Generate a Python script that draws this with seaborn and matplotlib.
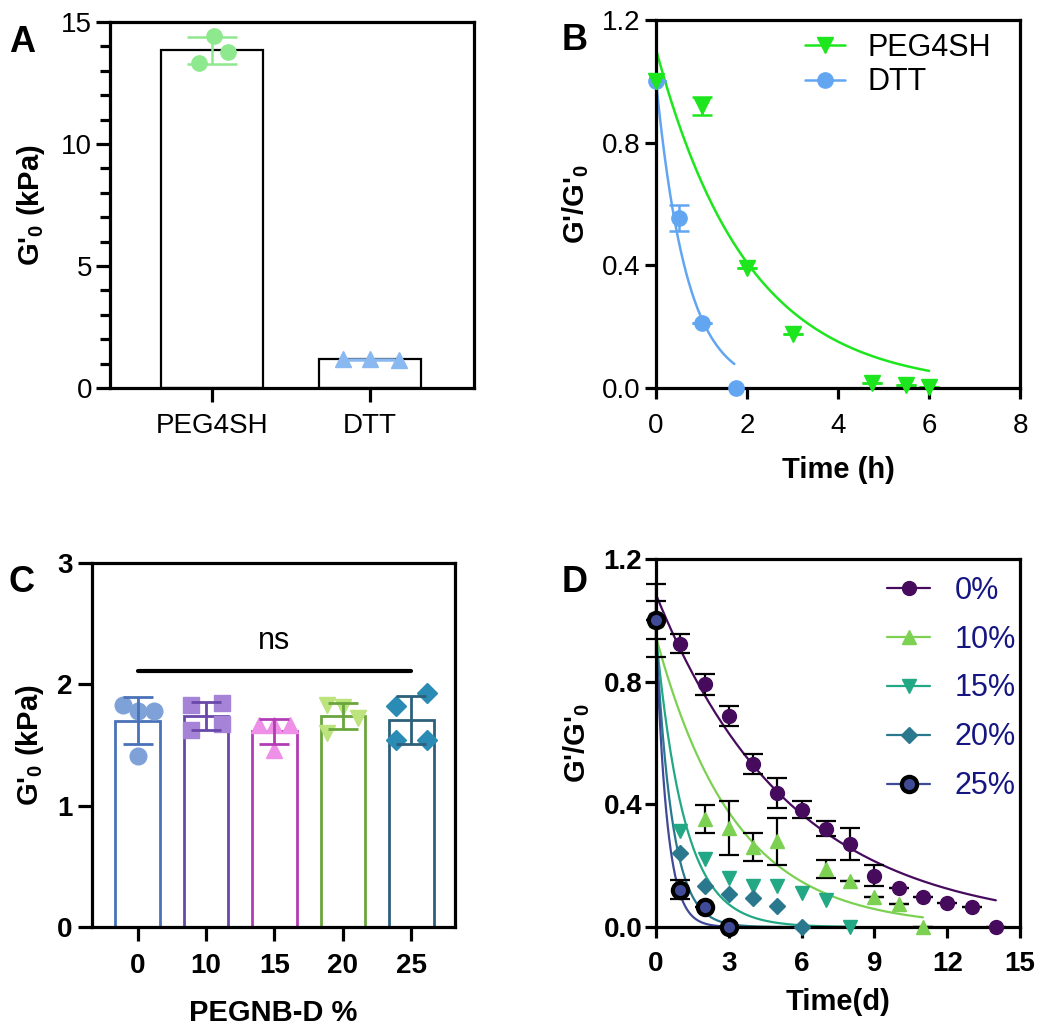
import numpy as np
import pandas as pd
import matplotlib
matplotlib.use('Agg')
import matplotlib.pyplot as plt
from matplotlib.lines import Line2D
from matplotlib.ticker import MultipleLocator, FormatStrFormatter
import seaborn as sns

# ---- panel A : G'0 for the two crosslinkers (replicates)
a_groups = ['PEG4SH', 'DTT']
a_peg4sh = [13.30, 14.42, 13.78]
a_dtt = [1.17, 1.20, 1.16]

# ---- panel B : G'/G'0 vs time (h)
b_peg_t = [0, 1, 2, 3, 4.75, 5.5, 6]
b_peg_y = [1.0, 0.92, 0.393, 0.176, 0.018, 0.011, 0.004]
b_peg_err = [0, 0.03, 0, 0, 0, 0, 0]
b_dtt_t = [0, 0.5, 1, 1.75]
b_dtt_y = [1.0, 0.554, 0.212, 0.0]
b_dtt_err = [0, 0.043, 0, 0]
# one-phase decay fits: (y0, k, last t)
b_peg_fit = (1.104, 0.497, 6.0)
b_dtt_fit = (1.0, 1.48, 1.72)

# ---- panel C : G'0 vs PEGNB-D % (replicates)
c_conc = ['0', '10', '15', '20', '25']
c_0 = [1.83, 1.78, 1.78, 1.41]
c_10 = [1.83, 1.85, 1.62, 1.67]
c_15 = [1.665, 1.665, 1.665, 1.46]
c_20 = [1.83, 1.81, 1.72, 1.60]
c_25 = [1.82, 1.93, 1.54, 1.54]

# ---- panel D : G'/G'0 vs time (d)
d_labels = ['0%', '10%', '15%', '20%', '25%']
d_0_t = [0, 1, 2, 3, 4, 5, 6, 7, 8, 9, 10, 11, 12, 13, 14]
d_0 = [1.0, 0.924, 0.791, 0.687, 0.532, 0.437, 0.383, 0.321, 0.271, 0.167, 0.127, 0.097, 0.078, 0.064, 0.0]
d_0_err = [0.12, 0.03, 0.033, 0.033, 0.032, 0.05, 0.027, 0.025, 0.053, 0.034, 0, 0, 0, 0, 0]
d_10_t = [0, 2, 3, 4, 5, 7, 8, 9, 10, 11]
d_10 = [1.0, 0.353, 0.323, 0.26, 0.279, 0.189, 0.149, 0.097, 0.076, 0.0]
d_10_err = [0.062, 0.046, 0.087, 0.046, 0.076, 0.028, 0, 0, 0, 0]
d_15_t = [0, 1, 2, 3, 4, 5, 6, 7, 8]
d_15 = [1.0, 0.312, 0.222, 0.16, 0.133, 0.133, 0.111, 0.089, 0.0]
d_20_t = [0, 1, 2, 3, 4, 5, 6]
d_20 = [1.0, 0.241, 0.135, 0.109, 0.095, 0.067, 0.0]
d_25_t = [0, 1, 2, 3]
d_25 = [1.0, 0.122, 0.064, 0.0]
d_25_err = [0, 0.03, 0, 0]
# one-phase decay fits: (y0, k, last t)
d_fits = [(1.084, 0.18, 14), (0.946, 0.309, 11), (0.95, 0.85, 8), (0.95, 1.5, 6), (0.95, 2.2, 3)]

sns.set_theme(style='ticks')
plt.rcParams['font.family'] = ['Liberation Sans', 'DejaVu Sans']
plt.rcParams['mathtext.fontset'] = 'custom'
plt.rcParams['mathtext.rm'] = 'Liberation Sans'
plt.rcParams['mathtext.it'] = 'Liberation Sans:italic'
plt.rcParams['mathtext.bf'] = 'Liberation Sans:bold'
plt.rcParams['axes.linewidth'] = 2.3
plt.rcParams['axes.edgecolor'] = 'black'
plt.rcParams['text.color'] = 'black'
plt.rcParams['axes.labelcolor'] = 'black'
plt.rcParams['xtick.color'] = 'black'
plt.rcParams['ytick.color'] = 'black'

TICK_FS = 20
LABEL_FS = 21

fig = plt.figure(figsize=(10.5, 10.32), dpi=100)
axA = fig.add_axes([0.1048, 0.624, 0.3467, 0.3547])
axB = fig.add_axes([0.6248, 0.624, 0.3467, 0.3566])
axC = fig.add_axes([0.0876, 0.1017, 0.3457, 0.3527])
axD = fig.add_axes([0.6248, 0.1017, 0.3467, 0.3566])


def decay(fit, n=200):
    y0, k, tmax = fit
    t = np.linspace(0, tmax, n)
    return t, y0 * np.exp(-k * t)


def style_ticks(ax, length, bold, pad_x, pad_y):
    ax.tick_params(which='major', direction='out', length=length, width=2.3,
                   labelsize=TICK_FS, color='black', labelcolor='black')
    ax.tick_params(axis='x', pad=pad_x)
    ax.tick_params(axis='y', pad=pad_y)
    if bold:
        for t in ax.get_xticklabels() + ax.get_yticklabels():
            t.set_fontweight('bold')


# ------------------------------------------------------------- A
df_a = pd.DataFrame({'group': ['PEG4SH'] * 3 + ['DTT'] * 3,
                     'G': a_peg4sh + a_dtt})
sns.barplot(data=df_a, x='group', y='G', order=a_groups, errorbar=None,
            color='white', edgecolor='black', linewidth=1.6, width=0.645,
            saturation=1, ax=axA)
a_offsets = [[-0.082, 0.013, 0.10], [-0.17, 0.0, 0.18]]
a_pt_colors = ['#8ee88e', '#8ab8f0']
a_markers = ['o', '^']
for i, vals in enumerate([a_peg4sh, a_dtt]):
    axA.errorbar(i, np.mean(vals), yerr=np.std(vals, ddof=1), color=a_pt_colors[i],
                 capsize=18, elinewidth=1.8, capthick=1.8, zorder=3)
    axA.plot(np.array(a_offsets[i]) + i, vals, linestyle='none', marker=a_markers[i],
             markersize=11, color=a_pt_colors[i], zorder=4, clip_on=False)
axA.set_xlim(-0.646, 1.658)
axA.set_ylim(0, 15)
axA.yaxis.set_major_locator(MultipleLocator(5))
axA.yaxis.set_minor_locator(MultipleLocator(1))
axA.tick_params(which='minor', direction='out', length=7, width=2.3, color='black')
axA.set_xlabel('')
axA.set_ylabel(r"G'$_\mathbf{0}$ (kPa)", fontsize=LABEL_FS, fontweight='bold', labelpad=10)
style_ticks(axA, 10, False, 8, 3)

# ------------------------------------------------------------- B
b_green = '#1ee61e'
b_blue = '#62a6f2'
t, y = decay(b_peg_fit)
sns.lineplot(x=t, y=y, color=b_green, linewidth=1.8, ax=axB)
t, y = decay(b_dtt_fit)
sns.lineplot(x=t, y=y, color=b_blue, linewidth=1.8, ax=axB)
axB.errorbar(b_peg_t, b_peg_y, yerr=b_peg_err, fmt='none', ecolor=b_green,
             capsize=7, elinewidth=1.8, capthick=1.8)
axB.errorbar(b_dtt_t, b_dtt_y, yerr=b_dtt_err, fmt='none', ecolor=b_blue,
             capsize=7, elinewidth=1.8, capthick=1.8)
axB.plot(b_dtt_t, b_dtt_y, linestyle='none', marker='o', markersize=11,
         color=b_blue, clip_on=False, zorder=4)
axB.plot(b_peg_t, b_peg_y, linestyle='none', marker='v', markersize=11,
         color=b_green, clip_on=False, zorder=5)
axB.set_xlim(0, 8)
axB.set_ylim(0, 1.2)
axB.xaxis.set_major_locator(MultipleLocator(2))
axB.yaxis.set_major_locator(MultipleLocator(0.4))
axB.yaxis.set_major_formatter(FormatStrFormatter('%.1f'))
axB.set_xlabel('Time (h)', fontsize=LABEL_FS, fontweight='bold', labelpad=12)
axB.set_ylabel(r"G'/G'$_\mathbf{0}$", fontsize=LABEL_FS, fontweight='bold', labelpad=8)
style_ticks(axB, 8, False, 10, 3)
b_handles = [Line2D([], [], color=b_green, marker='v', markersize=11, linewidth=1.8),
             Line2D([], [], color=b_blue, marker='o', markersize=11, linewidth=1.8)]
axB.legend(b_handles, a_groups, loc='upper left', bbox_to_anchor=(0.41, 0.965),
           frameon=False, fontsize=22, borderpad=0, borderaxespad=0,
           handlelength=1.3, handletextpad=0.75, labelspacing=0.15)

# ------------------------------------------------------------- C
c_edges = ['#4a72b8', '#6a48aa', '#b23cb4', '#6aa63e', '#2e607c']
c_points = ['#7ea2d8', '#a583d6', '#ee90e8', '#bce37c', '#2a8cb4']
c_markers = ['o', 's', '^', 'v', 'D']
c_offsets = [[-0.22, 0.0, 0.23, 0.0], [-0.225, 0.225, -0.225, 0.225],
             [-0.23, 0.0, 0.22, 0.0], [-0.23, 0.0, 0.22, -0.23],
             [-0.22, 0.23, -0.22, 0.23]]
c_all = [c_0, c_10, c_15, c_20, c_25]
df_c = pd.DataFrame({'conc': np.repeat(c_conc, 4), 'G': np.concatenate(c_all)})
sns.barplot(data=df_c, x='conc', y='G', hue='conc', order=c_conc, hue_order=c_conc,
            palette=c_edges, fill=False, errorbar=None, width=0.654, linewidth=2,
            legend=False, ax=axC)
for i, vals in enumerate(c_all):
    axC.plot(np.array(c_offsets[i]) + i, vals, linestyle='none', marker=c_markers[i],
             markersize=12 if c_markers[i] != 'D' else 10, color=c_points[i], zorder=3)
    axC.errorbar(i, np.mean(vals), yerr=np.std(vals, ddof=1), color=c_edges[i],
                 capsize=11, elinewidth=2, capthick=2, zorder=4)
axC.plot([0, 4], [2.114, 2.114], color='black', linewidth=3)
axC.text(2, 2.23, 'ns', ha='center', va='bottom', fontsize=22)
axC.set_xlim(-0.67, 4.64)
axC.set_ylim(0, 3)
axC.yaxis.set_major_locator(MultipleLocator(1))
axC.set_xlabel('PEGNB-D %', fontsize=LABEL_FS, fontweight='bold', labelpad=14)
axC.set_ylabel(r"G'$_\mathbf{0}$ (kPa)", fontsize=LABEL_FS, fontweight='bold', labelpad=8)
style_ticks(axC, 10, True, 9, 4)

# ------------------------------------------------------------- D
d_colors = ['#470b5e', '#7cd152', '#22a884', '#2a788e', '#3f4b97']
d_markers = ['o', '^', 'v', 'D', 'o']
d_sizes = [10, 10, 10, 8, 10]
d_ts = [d_0_t, d_10_t, d_15_t, d_20_t, d_25_t]
d_ys = [d_0, d_10, d_15, d_20, d_25]
d_errs = [d_0_err, d_10_err, None, None, d_25_err]
for i in range(5):
    t, y = decay(d_fits[i])
    sns.lineplot(x=t, y=y, color=d_colors[i], linewidth=1.6, ax=axD)
for i in range(5):
    if d_errs[i] is not None:
        axD.errorbar(d_ts[i], d_ys[i], yerr=d_errs[i], fmt='none', ecolor='black',
                     capsize=7, elinewidth=1.6, capthick=1.6, zorder=3, clip_on=False)
for i in range(5):
    if i == 4:
        axD.plot(d_ts[i], d_ys[i], linestyle='none', marker='o', markersize=11,
                 markerfacecolor=d_colors[i], markeredgecolor='black',
                 markeredgewidth=3, clip_on=False, zorder=6)
    else:
        axD.plot(d_ts[i], d_ys[i], linestyle='none', marker=d_markers[i],
                 markersize=d_sizes[i], color=d_colors[i], clip_on=False, zorder=4 + 0.1 * i)
axD.set_xlim(0, 15)
axD.set_ylim(0, 1.2)
axD.xaxis.set_major_locator(MultipleLocator(3))
axD.yaxis.set_major_locator(MultipleLocator(0.4))
axD.yaxis.set_major_formatter(FormatStrFormatter('%.1f'))
axD.set_xlabel('Time(d)', fontsize=LABEL_FS, fontweight='bold', labelpad=8)
axD.set_ylabel(r"G'/G'$_\mathbf{0}$", fontsize=LABEL_FS, fontweight='bold', labelpad=8)
style_ticks(axD, 8, True, 9, 2)
d_handles = []
for i in range(5):
    if i == 4:
        d_handles.append(Line2D([], [], color=d_colors[i], marker='o', markersize=11,
                                markerfacecolor=d_colors[i], markeredgecolor='black',
                                markeredgewidth=3, linewidth=1.6))
    else:
        d_handles.append(Line2D([], [], color=d_colors[i], marker=d_markers[i],
                                markersize=d_sizes[i], linewidth=1.6))
legD = axD.legend(d_handles, d_labels, loc='upper left', bbox_to_anchor=(0.635, 0.955),
                  frameon=False, fontsize=22, borderpad=0, borderaxespad=0,
                  handlelength=1.4, handletextpad=0.8, labelspacing=0.62)
for txt in legD.get_texts():
    txt.set_color('#161683')

for ax in [axA, axB, axC, axD]:
    for s in ax.spines.values():
        s.set_visible(True)
        s.set_linewidth(2.3)
        s.set_color('black')

# panel letters
fig.text(22 / 1050, 1 - 42 / 1032, 'A', fontsize=26, fontweight='bold', ha='center', va='center')
fig.text(575 / 1050, 1 - 40 / 1032, 'B', fontsize=26, fontweight='bold', ha='center', va='center')
fig.text(22 / 1050, 1 - 582 / 1032, 'C', fontsize=26, fontweight='bold', ha='center', va='center')
fig.text(575 / 1050, 1 - 583 / 1032, 'D', fontsize=26, fontweight='bold', ha='center', va='center')

fig.savefig('out.png', dpi=100, facecolor='white')
